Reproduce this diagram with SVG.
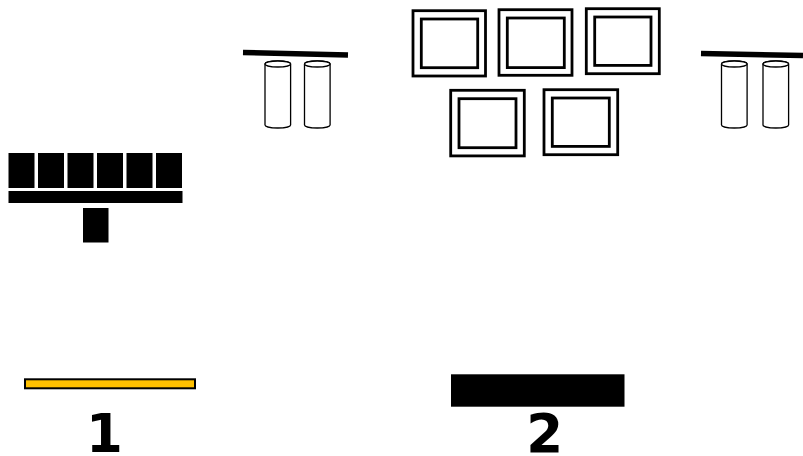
<svg xmlns="http://www.w3.org/2000/svg" width="803" height="456" viewBox="0 0 803 456">
<style>
.blk{fill:#000}
.frame{fill:#fff;stroke:#000;stroke-width:2.8}
.cyl{fill:#fff;stroke:#000;stroke-width:1.3}
.bar{stroke:#000;stroke-width:5.5;fill:none}
.num{font-family:"DejaVu Sans",sans-serif;font-weight:bold;font-size:53px;fill:#000;text-anchor:middle}
</style>
<defs>
<g id="cyl">
<path class="cyl" d="M0,3 L0,64 A12.8,3 0 0 0 25.6,64 L25.6,3 A12.8,3 0 0 0 0,3 Z"/>
<ellipse class="cyl" cx="12.8" cy="3" rx="12.8" ry="3"/>
</g>
</defs>
<g id="stage-left">
<rect class="blk" x="8.5" y="153" width="26" height="35"/>
<rect class="blk" x="38" y="153" width="26" height="35"/>
<rect class="blk" x="67.5" y="153" width="26" height="35"/>
<rect class="blk" x="97" y="153" width="26" height="35"/>
<rect class="blk" x="126.5" y="153" width="26" height="35"/>
<rect class="blk" x="156" y="153" width="26" height="35"/>
<rect class="blk" x="8.5" y="191" width="174" height="12"/>
<rect class="blk" x="83" y="208" width="25.5" height="34.5"/>
</g>
<g id="cylinders-left">
<line class="bar" x1="243" y1="52.5" x2="348" y2="55"/>
<use href="#cyl" x="265" y="61"/>
<use href="#cyl" x="304.5" y="61"/>
</g>
<g id="frames">
<rect class="frame" x="413" y="10.7" width="72.5" height="65.3"/>
<rect class="frame" x="421.3" y="19" width="56.4" height="48.7"/>
<rect class="frame" x="499" y="9.7" width="73" height="65.6"/>
<rect class="frame" x="507.3" y="18" width="57" height="49.6"/>
<rect class="frame" x="586.3" y="8.7" width="73" height="65"/>
<rect class="frame" x="594.7" y="17" width="56.3" height="48.4"/>
<rect class="frame" x="450.7" y="90.3" width="73.6" height="65.6"/>
<rect class="frame" x="459" y="98.7" width="57" height="49"/>
<rect class="frame" x="544" y="89.7" width="73.7" height="65"/>
<rect class="frame" x="552.3" y="98" width="57" height="48.4"/>
</g>
<g id="cylinders-right">
<line class="bar" x1="701" y1="53.5" x2="803" y2="55.5"/>
<use href="#cyl" x="721.5" y="61"/>
<use href="#cyl" x="763" y="61"/>
</g>
<g id="label-1">
<rect x="25" y="379.3" width="170" height="9" fill="#FFC000" stroke="#000" stroke-width="2"/>
<text class="num" x="104.5" y="451.5">1</text>
</g>
<g id="label-2">
<rect class="blk" x="451" y="374.3" width="173.5" height="32.4"/>
<text class="num" x="544.7" y="452">2</text>
</g>
</svg>
